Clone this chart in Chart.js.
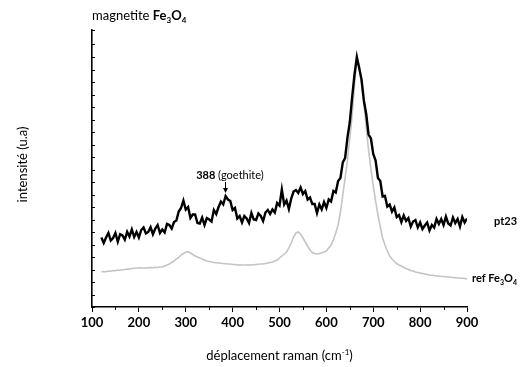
<!DOCTYPE html>
<html>
<head>
<meta charset="utf-8">
<script src="https://cdn.jsdelivr.net/npm/chart.js@4"></script>
<style>
  html, body { margin: 0; padding: 0; background: #fff; }
  canvas { display: block; }
</style>
</head>
<body>
<canvas id="raman" width="520" height="367"></canvas>
<script>
// raman shift (cm-1)
const shifts = [
  120,125,130,135,140,145,150,155,160,165,170,175,180,185,190,195,
  200,205,210,215,220,225,230,235,240,245,250,255,260,265,270,275,280,285,290,295,
  300,305,310,315,320,325,330,335,340,345,350,355,360,365,370,375,380,385,390,395,
  400,405,410,415,420,425,430,435,440,445,450,455,460,465,470,475,480,485,490,495,
  500,505,510,515,520,525,530,535,540,545,550,555,560,565,570,575,580,585,590,595,
  600,605,610,615,620,625,630,635,640,645,650,655,660,665,670,675,680,685,690,695,
  700,705,710,715,720,725,730,735,740,745,750,755,760,765,770,775,780,785,790,795,
  800,805,810,815,820,825,830,835,840,845,850,855,860,865,870,875,880,885,890,895,
  900
];

// sample pt23
const pt23 = [
  278,256,278,296,266,276,296,261,291,286,269,301,282,310,280,300,
  278,308,318,294,300,319,291,314,328,296,310,298,332,328,314,340,346,382,396,426,
  390,400,356,370,370,336,334,358,328,356,350,342,388,372,400,422,410,444,430,424,
  388,396,354,364,338,364,354,336,376,350,348,374,364,344,378,388,372,390,378,416,
  406,470,410,426,392,434,462,468,456,478,452,464,430,438,412,412,376,410,390,420,
  396,430,422,464,458,504,516,578,596,678,740,840,930,1000,956,910,826,772,690,674,
  612,586,516,504,442,444,402,410,382,398,360,368,340,366,344,356,322,342,348,318,
  338,312,326,338,306,328,318,352,332,352,328,362,334,326,358,336,352,322,360,338,
  354
];

// reference magnetite Fe3O4
const refFe3O4 = [
  140,142,141,144,143,146,145,148,147,149,150,152,151,154,155,156,
  156,157,155,157,156,158,157,159,158,160,160,164,168,172,178,184,192,198,208,214,
  220,221,216,210,204,200,196,192,188,184,182,180,178,177,176,175,174,173,172,172,
  170,170,168,169,168,168,168,169,168,169,170,171,172,172,174,176,178,180,184,188,
  196,204,212,220,236,256,280,296,300,292,276,260,244,228,218,214,212,214,216,220,
  224,236,248,268,296,328,380,448,516,588,676,768,888,984,970,892,812,720,628,552,
  484,424,368,320,276,248,224,204,192,182,174,168,164,158,154,150,146,144,140,138,
  136,134,132,130,128,127,126,124,124,122,122,121,120,119,118,117,116,116,115,114,
  112
];

const xTickLabels = ['100','200','300','400','500','600','700','800','900'];
const goethitePeak = 388;

const FONT = 'Lato, "Open Sans", sans-serif';

function pairs(ys) {
  return shifts.map((x, i) => ({ x: x, y: ys[i] }));
}

// draw a run of text pieces [text, weight, size, dy]
function richText(ctx, parts, x, y, align) {
  let total = 0;
  parts.forEach(p => {
    ctx.font = p[1] + ' ' + p[2] + 'px ' + FONT;
    total += ctx.measureText(p[0]).width;
  });
  let cx = align === 'center' ? x - total / 2 : x;
  ctx.textAlign = 'left';
  ctx.textBaseline = 'alphabetic';
  parts.forEach(p => {
    ctx.font = p[1] + ' ' + p[2] + 'px ' + FONT;
    ctx.fillText(p[0], cx, y + p[3]);
    cx += ctx.measureText(p[0]).width;
  });
}

const decorations = {
  id: 'decorations',
  afterDraw(chart) {
    const ctx = chart.ctx;
    const xs = chart.scales.x;
    const ys = chart.scales.y;
    const area = chart.chartArea;
    ctx.save();
    ctx.fillStyle = '#000';
    ctx.strokeStyle = '#000';

    // inward ticks on the intensity axis
    ctx.lineWidth = 1;
    ys.ticks.forEach(t => {
      const y = Math.round(ys.getPixelForValue(t.value)) + 0.5;
      ctx.beginPath();
      ctx.moveTo(area.left, y);
      ctx.lineTo(area.left + 3, y);
      ctx.stroke();
    });
    // short minor ticks on the shift axis
    xs.ticks.forEach(t => {
      if (t.value % 100 === 0) return;
      const x = Math.round(xs.getPixelForValue(t.value)) + 0.5;
      ctx.beginPath();
      ctx.moveTo(x, area.bottom);
      ctx.lineTo(x, area.bottom + 3);
      ctx.stroke();
    });

    // title
    richText(ctx, [['magnetite ', 'normal', 13, 0], ['Fe', 'bold', 13, 0], ['3', 'bold', 8, 3],
                   ['O', 'bold', 13, 0], ['4', 'bold', 8, 3]], area.left, area.top - 10, 'left');

    // x title
    richText(ctx, [['déplacement raman (cm', 'normal', 13, 0], ['-1', 'normal', 8, -5],
                   [')', 'normal', 13, 0]], (area.left + area.right) / 2, chart.height - 7, 'center');

    // y title
    ctx.save();
    ctx.translate(27, (area.top + area.bottom) / 2 - 4);
    ctx.rotate(-Math.PI / 2);
    richText(ctx, [['intensité (u.a)', 'normal', 13, 0]], 0, 0, 'center');
    ctx.restore();

    // series labels at the right end
    const xEnd = xs.getPixelForValue(shifts[shifts.length - 1]);
    richText(ctx, [['pt23', 'bold', 11, 0]], xEnd + 27,
             ys.getPixelForValue(344) + 4, 'left');
    richText(ctx, [['ref Fe', 'bold', 11, 0], ['3', 'bold', 7, 3], ['O', 'bold', 11, 0],
                   ['4', 'bold', 7, 3]], xEnd + 5,
             ys.getPixelForValue(refFe3O4[refFe3O4.length - 1]) + 3, 'left');

    // goethite annotation
    const gx = xs.getPixelForValue(goethitePeak);
    const gy = ys.getPixelForValue(436);
    richText(ctx, [['388 ', 'bold', 11, 0], ['(goethite)', 'normal', 11, 0]], gx + 3, gy - 19, 'center');
    ctx.lineWidth = 1;
    ctx.beginPath();
    ctx.moveTo(gx - 1.5, gy - 16);
    ctx.lineTo(gx - 1.5, gy - 6);
    ctx.stroke();
    ctx.beginPath();
    ctx.moveTo(gx - 4, gy - 10);
    ctx.lineTo(gx - 1.5, gy - 5);
    ctx.lineTo(gx + 1, gy - 10);
    ctx.closePath();
    ctx.fill();

    ctx.restore();
  }
};

new Chart(document.getElementById('raman'), {
  type: 'line',
  data: {
    datasets: [{
      label: 'pt23',
      data: pairs(pt23),
      borderColor: '#000',
      borderWidth: 2.4,
      pointRadius: 0,
      tension: 0
    }, {
      label: 'ref Fe3O4',
      data: pairs(refFe3O4),
      borderColor: '#c4c4c4',
      borderWidth: 1.6,
      pointRadius: 0,
      tension: 0
    }]
  },
  options: {
    responsive: false,
    animation: false,
    layout: { padding: { left: 0, right: 53, top: 30, bottom: 0 } },
    plugins: {
      legend: { display: false },
      tooltip: { enabled: false }
    },
    scales: {
      x: {
        type: 'linear',
        min: 100,
        max: 900,
        afterFit(scale) { scale.height = 60; },
        ticks: {
          stepSize: 50,
          autoSkip: false,
          maxRotation: 0,
          padding: 3,
          color: '#000',
          font: { family: FONT, size: 13, weight: 'bold' },
          callback: v => (v % 100 === 0 ? xTickLabels[(v - 100) / 100] : '')
        },
        grid: {
          drawOnChartArea: false,
          drawTicks: true,
          tickLength: 5,
          lineWidth: 1,
          color: c => (c.tick && c.tick.value % 100 === 0 ? '#000' : 'rgba(0,0,0,0)')
        },
        border: { display: true, color: '#000', width: 1.6 }
      },
      y: {
        min: 0,
        max: 1108,
        afterFit(scale) { scale.width = 92; },
        ticks: { display: false, stepSize: 50 },
        grid: { display: false },
        border: { display: true, color: '#000', width: 1.6 }
      }
    }
  },
  plugins: [decorations]
});
</script>
</body>
</html>
